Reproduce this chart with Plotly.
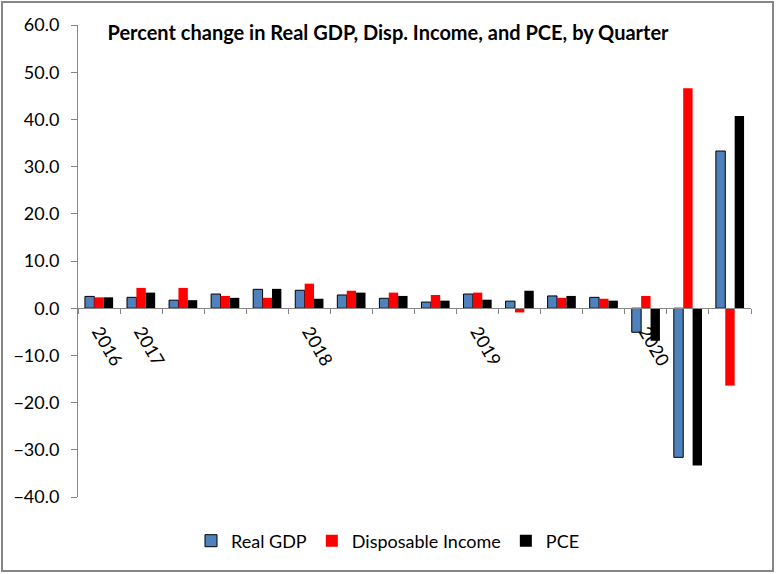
import plotly.graph_objects as go

# quarters 2016Q4 .. 2020Q3, labels only where the year label was shown
quarters = ["2016Q4", "2017Q1", "2017Q2", "2017Q3", "2017Q4",
            "2018Q1", "2018Q2", "2018Q3", "2018Q4",
            "2019Q1", "2019Q2", "2019Q3", "2019Q4",
            "2020Q1", "2020Q2", "2020Q3"]
year_labels = ["2016", "2017", "", "", "", "2018", "", "", "",
               "2019", "", "", "", "2020", "", ""]

real_gdp = [2.5, 2.3, 1.7, 3.0, 4.0, 3.8, 2.8, 2.1, 1.3, 3.0, 1.5, 2.6, 2.3, -5.1, -31.6, 33.3]
disp_income = [2.3, 4.3, 4.3, 2.6, 2.2, 5.2, 3.7, 3.3, 2.8, 3.3, -0.9, 2.2, 2.0, 2.6, 46.6, -16.4]
pce = [2.3, 3.3, 1.7, 2.2, 4.1, 2.0, 3.3, 2.6, 1.6, 1.8, 3.7, 2.6, 1.6, -6.9, -33.3, 40.7]

W, H = 776, 574
ML, MR, MT, MB = 78, 25, 25, 77
FONT = "Lato"
GREY = "#868686"

xs = list(range(len(quarters)))
fig = go.Figure()
fig.add_bar(x=xs, y=real_gdp, name="Real GDP", marker_color="#4F81BD",
            marker_line=dict(color="black", width=1))
fig.add_bar(x=xs, y=disp_income, name="Disposable Income", marker_color="#FF0000",
            marker_line_width=0)
fig.add_bar(x=xs, y=pce, name="PCE", marker_color="#000000", marker_line_width=0)

ymin, ymax = -40, 60
tick_idx = [i for i, t in enumerate(year_labels) if t]

fig.update_layout(
    width=W, height=H,
    margin=dict(l=ML, r=MR, t=MT, b=MB, autoexpand=False),
    paper_bgcolor="white", plot_bgcolor="white",
    barmode="group", bargap=0.33, bargroupgap=0,
    font=dict(family=FONT, size=18, color="black"),
    title=dict(text="<b>Percent change in Real GDP, Disp. Income, and PCE, by Quarter</b>",
               x=0.5, xref="container", xanchor="center",
               y=1 - 33 / H, yref="container", yanchor="middle",
               font=dict(family=FONT, size=20, color="black")),
    xaxis=dict(range=[-0.5, len(quarters) - 0.5],
               tickmode="array", tickvals=tick_idx,
               ticktext=[year_labels[i] for i in tick_idx],
               tickangle=60, ticks="outside", ticklen=5, tickcolor="rgba(0,0,0,0)",
               minor=dict(tickmode="array",
                          tickvals=[i - 0.5 for i in range(len(quarters) + 1)],
                          ticks="outside", ticklen=5, tickcolor=GREY, showgrid=False),
               showline=True, linecolor=GREY, linewidth=1,
               showgrid=False, zeroline=False,
               anchor="free", position=(0 - ymin) / (ymax - ymin),
               tickfont=dict(size=18)),
    yaxis=dict(range=[ymin, ymax], dtick=10, tickformat=".1f",
               ticks="outside", ticklen=6, tickcolor=GREY, ticklabelstandoff=8,
               showline=True, linecolor=GREY, linewidth=1,
               showgrid=False, zeroline=False, tickfont=dict(size=18)),
    legend=dict(orientation="h", x=0.5, xref="container", xanchor="center",
                y=1 - 541 / H, yref="container", yanchor="middle",
                font=dict(size=18), traceorder="normal", itemwidth=30),
)

# outer grey frame of the chart
pw, ph = W - ML - MR, H - MT - MB
fig.add_shape(type="rect", xref="paper", yref="paper",
              x0=(2 - ML) / pw, x1=(W - 3 - ML) / pw,
              y0=(H - MB - (H - 3)) / ph, y1=(H - MB - 2) / ph,
              line=dict(color=GREY, width=2), fillcolor="rgba(0,0,0,0)", layer="below")

fig.write_html("out.html", config={"displayModeBar": False},
               post_script="document.body.style.margin='0px';")
